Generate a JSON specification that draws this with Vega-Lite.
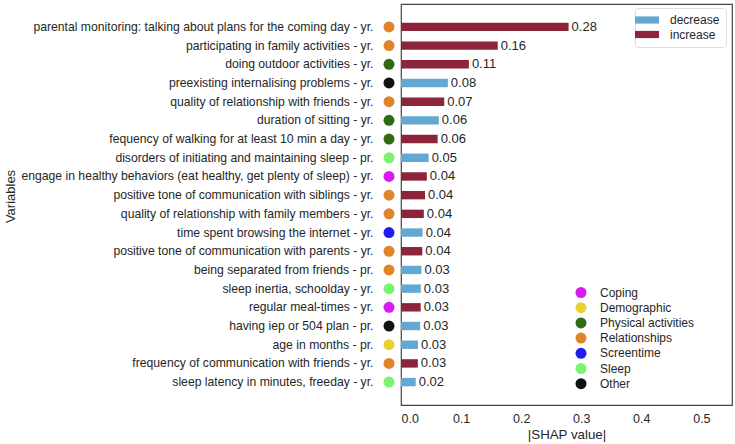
{
  "$schema": "https://vega.github.io/schema/vega-lite/v6.json",
  "width": 331,
  "height": 401,
  "autosize": {"type": "none"},
  "padding": {"left": 401, "top": 4, "right": 3, "bottom": 39},
  "background": "white",
  "config": {
    "font": "Liberation Sans",
    "view": {"stroke": "#444444", "strokeWidth": 1.2},
    "axis": {"labelColor": "#262626", "titleColor": "#262626", "titleFontWeight": "normal", "domain": false, "ticks": false, "grid": false}
  },
  "data": {
    "values": [
      {"rank": 1, "variable": "parental monitoring: talking about plans for the coming day - yr.", "value": 0.279, "direction": "increase", "category": "Relationships"},
      {"rank": 2, "variable": "participating in family activities - yr.", "value": 0.161, "direction": "increase", "category": "Relationships"},
      {"rank": 3, "variable": "doing outdoor activities - yr.", "value": 0.113, "direction": "increase", "category": "Physical activities"},
      {"rank": 4, "variable": "preexisting internalising problems - yr.", "value": 0.078, "direction": "decrease", "category": "Other"},
      {"rank": 5, "variable": "quality of relationship with friends - yr.", "value": 0.072, "direction": "increase", "category": "Relationships"},
      {"rank": 6, "variable": "duration of sitting - yr.", "value": 0.063, "direction": "decrease", "category": "Physical activities"},
      {"rank": 7, "variable": "fequency of walking for at least 10 min a day - yr.", "value": 0.061, "direction": "increase", "category": "Physical activities"},
      {"rank": 8, "variable": "disorders of initiating and maintaining sleep - pr.", "value": 0.046, "direction": "decrease", "category": "Sleep"},
      {"rank": 9, "variable": "engage in healthy behaviors (eat healthy, get plenty of sleep) - yr.", "value": 0.043, "direction": "increase", "category": "Coping"},
      {"rank": 10, "variable": "positive tone of communication with siblings - yr.", "value": 0.040, "direction": "increase", "category": "Relationships"},
      {"rank": 11, "variable": "quality of relationship with family members - yr.", "value": 0.038, "direction": "increase", "category": "Relationships"},
      {"rank": 12, "variable": "time spent browsing the internet - yr.", "value": 0.036, "direction": "decrease", "category": "Screentime"},
      {"rank": 13, "variable": "positive tone of communication with parents - yr.", "value": 0.0355, "direction": "increase", "category": "Relationships"},
      {"rank": 14, "variable": "being separated from friends - pr.", "value": 0.034, "direction": "decrease", "category": "Relationships"},
      {"rank": 15, "variable": "sleep inertia, schoolday - yr.", "value": 0.033, "direction": "decrease", "category": "Sleep"},
      {"rank": 16, "variable": "regular meal-times - yr.", "value": 0.0328, "direction": "increase", "category": "Coping"},
      {"rank": 17, "variable": "having iep or 504 plan - pr.", "value": 0.032, "direction": "decrease", "category": "Other"},
      {"rank": 18, "variable": "age in months - pr.", "value": 0.0283, "direction": "decrease", "category": "Demographic"},
      {"rank": 19, "variable": "frequency of communication with friends - yr.", "value": 0.028, "direction": "increase", "category": "Relationships"},
      {"rank": 20, "variable": "sleep latency in minutes, freeday - yr.", "value": 0.0245, "direction": "decrease", "category": "Sleep"}
    ]
  },
  "encoding": {
    "y": {
      "field": "variable",
      "type": "nominal",
      "sort": {"field": "rank", "op": "min", "order": "ascending"},
      "scale": {"paddingInner": 0.55, "paddingOuter": 1.0},
      "axis": {"title": "Variables", "labelFontSize": 12.2, "labelPadding": 28, "labelLimit": 500, "titleFontSize": 13, "titleX": -391, "titleY": 192, "titleAngle": -90, "titleAlign": "center", "titleBaseline": "middle"}
    }
  },
  "layer": [
    {
      "mark": {"type": "bar"},
      "encoding": {
        "x": {
          "field": "value",
          "type": "quantitative",
          "scale": {"domain": [0, 0.551], "nice": false, "zero": true},
          "axis": {"title": "|SHAP value|", "values": [0, 0.1, 0.2, 0.3, 0.4, 0.5], "format": ".1f", "labelFontSize": 12.5, "labelPadding": 7, "titleFontSize": 13.3, "titlePadding": 3}
        },
        "color": {
          "field": "direction",
          "type": "nominal",
          "scale": {"domain": ["decrease", "increase"], "range": ["#62a8d2", "#8e2439"]},
          "legend": {
            "title": null,
            "orient": "none",
            "legendX": 234,
            "legendY": 4,
            "direction": "vertical",
            "symbolType": "M-3,-0.9H3V0.9H-3Z",
            "symbolSize": 64,
            "symbolStrokeWidth": 0,
            "labelFontSize": 12,
            "labelColor": "#262626",
            "labelOffset": 17,
            "rowPadding": 2.5,
            "padding": 6,
            "strokeColor": "#dddddd",
            "cornerRadius": 3,
            "fillColor": "white"
          }
        }
      }
    },
    {
      "mark": {"type": "text", "align": "left", "baseline": "middle", "dx": 3, "fontSize": 13, "color": "#262626"},
      "encoding": {
        "x": {"field": "value", "type": "quantitative"},
        "text": {"field": "value", "type": "quantitative", "format": ".2f"}
      }
    },
    {
      "mark": {"type": "point", "filled": true, "opacity": 1, "size": 121, "shape": "circle", "xOffset": -12, "clip": false},
      "encoding": {
        "x": {"datum": 0, "type": "quantitative"},
        "fill": {
          "field": "category",
          "type": "nominal",
          "scale": {
            "domain": ["Coping", "Demographic", "Physical activities", "Relationships", "Screentime", "Sleep", "Other"],
            "range": ["#d61cf2", "#ecd032", "#2f6b12", "#e0842a", "#1f1bf2", "#7cf272", "#111111"]
          },
          "legend": {
            "title": null,
            "orient": "none",
            "legendX": 174,
            "legendY": 282.5,
            "direction": "vertical",
            "symbolType": "circle",
            "symbolSize": 121,
            "symbolStrokeWidth": 0,
            "labelFontSize": 12,
            "labelColor": "#262626",
            "labelOffset": 13,
            "rowPadding": 3.2,
            "padding": 0
          }
        }
      }
    }
  ],
  "resolve": {"scale": {"color": "independent", "fill": "independent"}}
}
